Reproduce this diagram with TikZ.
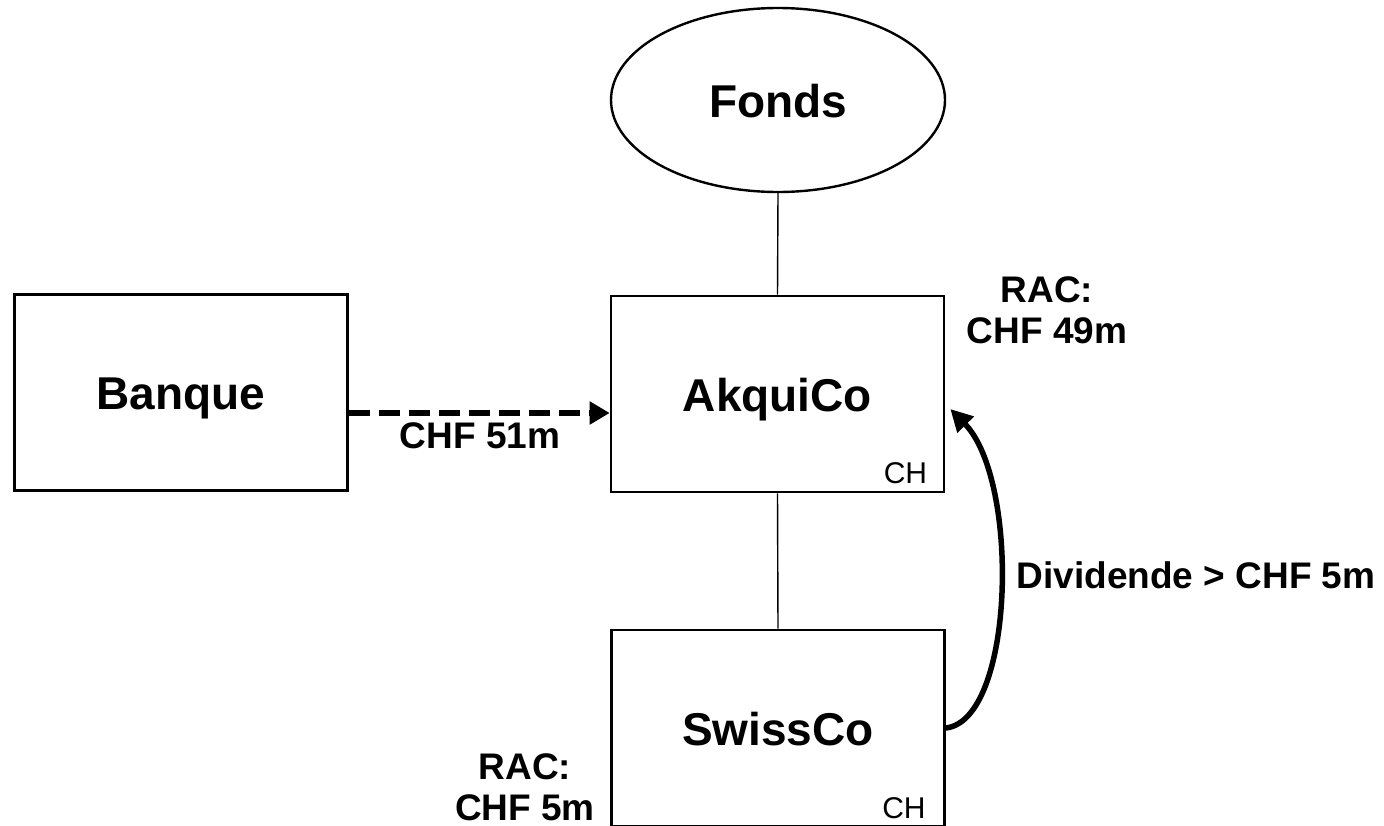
\documentclass[tikz,border=0pt]{standalone}
\usepackage{fontspec}
\setmainfont{Liberation Sans}
\usetikzlibrary{arrows.meta,calc,shapes.geometric}

\begin{document}
\begin{tikzpicture}[x=1pt,y=-1pt,
  entity/.style={draw, line width=2.6pt, rectangle, minimum width=333pt,
    minimum height=196pt, inner sep=0pt,
    font=\fontsize{46}{50}\selectfont\bfseries, text height=38pt, text depth=4pt},
  fund/.style={draw, line width=2.4pt, ellipse, minimum width=334pt,
    minimum height=184pt, inner sep=0pt,
    font=\fontsize{46}{50}\selectfont\bfseries, text height=38pt, text depth=4pt},
  link/.style={line width=1.4pt},
  amount/.style={font=\fontsize{37}{41}\selectfont\bfseries, align=center, inner sep=0pt},
  country/.style={font=\fontsize{30}{34}\selectfont, inner sep=0pt, anchor=base east},
  loanarrow/.style={line width=6.5pt, dash pattern=on 21pt off 9pt,
    -{Triangle[length=20pt,width=22pt]}},
  divarrow/.style={line width=5.5pt, -{Triangle[length=22pt,width=22pt]}},
]
% canvas
\fill[white] (0,0) rectangle (1384,825);
\useasboundingbox (0,0) rectangle (1384,825);

% entities
\node[fund] (fonds) at (778,100) {Fonds};
\node[entity] (banque) at (181,392.5) {Banque};
\node[entity] (akqui) at (777.5,394) {AkquiCo};
\node[entity] (swiss) at (778,728) {SwissCo};

% jurisdiction tags
\node[country] (chA) at ($(akqui.south east)+(-18,-10)$) {CH};
\node[country] (chS) at ($(swiss.south east)+(-20,-9)$) {CH};

% amounts
\node[amount] (racA) at (1047,310) {RAC:\\CHF 49m};
\node[amount] (racS) at (525,787) {RAC:\\CHF 5m};
\node[amount] (div) at (1196,575) {Dividende > CHF 5m};
\node[amount] (loan) at (480,435.5) {CHF 51m};

% ownership lines
\draw[link] (fonds.south) -- (akqui.north);
\draw[link] (akqui.south) -- (swiss.north);

% loan from the bank
\draw[loanarrow] ($(banque.east)+(0,20.5)$) -- ($(akqui.west)+(0,19)$);

% dividend upstream
\draw[divarrow] (swiss.east) .. controls (1015,720) and (1020,480) .. ($(akqui.east)+(5,15)$);
\end{tikzpicture}
\end{document}
